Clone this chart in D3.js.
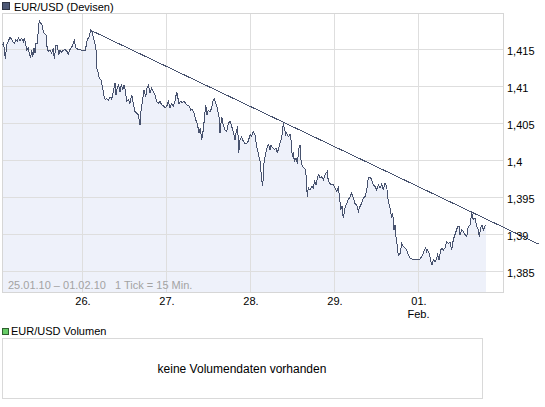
<!DOCTYPE html>
<html>
<head>
<meta charset="utf-8">
<script src="https://cdn.jsdelivr.net/npm/d3@7"></script>
<style>
    body { margin: 0; background: #fff; }
    svg { display: block; font-family: "Liberation Sans", Arial, sans-serif; }
</style>
</head>
<body>
<svg id="chart"></svg>
<script>

// chart hours since 25.01. 00:00 (weekend left out), one point every few ticks
const hours = [1.09,1.37,1.66,1.94,2.34,2.80,3.29,3.57,4.06,4.51,4.91,5.37,5.66,6.14,6.63,7.09,7.37,7.77,8.06,8.51,
    8.80,9.20,9.49,9.77,10.14,10.43,10.71,11.09,11.37,11.66,12.06,12.43,12.80,13.20,13.57,13.86,14.23,14.71,15.20,15.66,
    15.94,16.43,16.80,17.20,17.57,18.06,18.51,19.00,19.49,19.94,20.43,20.91,21.37,21.66,22.14,22.80,23.29,23.77,24.23,24.71,
    25.00,25.37,25.86,26.34,26.71,27.09,27.57,27.86,28.06,28.51,28.80,29.29,29.77,30.14,30.51,30.91,31.37,31.86,32.34,32.80,
    33.29,33.57,33.94,34.34,34.71,35.09,35.49,35.86,36.23,36.63,37.09,37.57,38.06,38.51,39.00,39.49,39.94,40.43,40.71,41.09,
    41.57,42.06,42.43,42.80,43.29,43.77,44.23,44.71,45.20,45.66,46.14,46.63,47.09,47.57,48.06,48.51,49.00,49.49,49.94,50.43,
    50.91,51.20,51.57,52.06,52.51,53.00,53.49,53.94,54.43,54.91,55.37,55.86,56.34,56.80,57.29,57.66,58.06,58.43,58.80,59.20,
    59.57,59.94,60.43,60.91,61.37,61.66,62.06,62.51,63.00,63.29,63.77,64.23,64.71,65.20,65.66,66.14,66.63,67.09,67.57,67.94,
    68.34,68.63,69.00,69.49,69.94,70.43,70.91,71.37,71.86,72.34,72.80,73.29,73.77,74.23,74.71,75.20,75.49,75.86,76.34,76.80,
    77.20,77.57,77.86,78.34,78.80,79.29,79.66,79.94,80.43,80.91,81.37,81.66,82.06,82.34,82.80,83.29,83.57,83.94,84.23,84.51,
    85.00,85.37,85.86,86.14,86.43,86.80,87.29,87.77,88.23,88.51,89.00,89.49,89.94,90.34,90.71,91.09,91.49,91.86,92.34,92.80,
    93.29,93.94,94.23,94.71,95.20,95.66,96.14,96.63,97.09,97.37,97.77,98.14,98.51,99.00,99.49,99.94,100.43,100.91,101.37,101.86,
    102.34,102.80,103.29,103.77,104.23,104.71,105.20,105.66,106.14,106.63,107.09,107.57,108.06,108.51,109.00,109.49,109.94,110.43,110.91,111.37,
    111.86,112.34,112.63,113.00,113.29,113.57,113.94,114.23,114.71,115.20,115.66,116.14,116.63,117.09,117.57,118.06,119.00,119.94,120.43,120.91,
    121.37,121.66,122.06,122.34,122.63,123.00,123.29,123.57,123.86,124.23,124.71,125.20,125.49,125.86,126.34,126.71,127.09,127.57,128.06,128.51,
    129.00,129.49,129.94,130.43,130.71,131.20,131.57,131.86,132.34,132.80,133.29,133.77,134.23,134.71,135.20,135.66,136.14,136.63,137.09,137.37,
    137.77,138.14,138.51,139.00,139.29];

const rates = [1.4156,1.4158,1.4152,1.4137,1.4156,1.4161,1.4167,1.4165,1.4161,1.4158,1.4163,1.4161,1.4166,1.4162,1.4165,1.4161,1.4166,1.4158,1.4149,1.4152,
    1.4145,1.4139,1.4149,1.4140,1.4152,1.4145,1.4158,1.4158,1.4176,1.4189,1.4186,1.4183,1.4174,1.4171,1.4170,1.4154,1.4147,1.4149,1.4145,1.4152,
    1.4137,1.4156,1.4155,1.4143,1.4149,1.4146,1.4149,1.4150,1.4148,1.4144,1.4150,1.4153,1.4158,1.4162,1.4152,1.4150,1.4150,1.4149,1.4148,1.4148,
    1.4154,1.4163,1.4167,1.4176,1.4174,1.4167,1.4158,1.4149,1.4125,1.4118,1.4111,1.4109,1.4098,1.4087,1.4082,1.4084,1.4081,1.4086,1.4083,1.4093,
    1.4104,1.4089,1.4098,1.4102,1.4093,1.4103,1.4095,1.4102,1.4095,1.4080,1.4082,1.4077,1.4089,1.4077,1.4066,1.4064,1.4062,1.4048,1.4066,1.4080,
    1.4095,1.4086,1.4098,1.4102,1.4091,1.4098,1.4093,1.4089,1.4080,1.4077,1.4080,1.4075,1.4074,1.4071,1.4073,1.4080,1.4071,1.4077,1.4073,1.4080,
    1.4093,1.4086,1.4077,1.4080,1.4078,1.4080,1.4077,1.4075,1.4074,1.4068,1.4069,1.4064,1.4055,1.4050,1.4037,1.4044,1.4028,1.4039,1.4055,1.4075,
    1.4061,1.4068,1.4066,1.4071,1.4082,1.4083,1.4077,1.4071,1.4059,1.4037,1.4059,1.4048,1.4041,1.4039,1.4050,1.4053,1.4046,1.4039,1.4028,1.4039,
    1.4046,1.4010,1.4028,1.4032,1.4026,1.4023,1.4023,1.4026,1.4035,1.4033,1.4039,1.4035,1.4019,1.4010,1.3999,1.3974,1.3965,1.3996,1.4010,1.4019,
    1.4021,1.4014,1.4021,1.4017,1.4015,1.4017,1.4010,1.4015,1.4023,1.4030,1.4050,1.4044,1.4035,1.4037,1.4032,1.4035,1.4028,1.4005,1.4012,1.3999,
    1.4003,1.3996,1.4017,1.4021,1.4001,1.3992,1.3990,1.3987,1.3951,1.3963,1.3960,1.3965,1.3963,1.3972,1.3967,1.3976,1.3981,1.3976,1.3978,1.3974,
    1.3981,1.3985,1.3972,1.3969,1.3967,1.3967,1.3963,1.3958,1.3963,1.3954,1.3933,1.3938,1.3922,1.3936,1.3942,1.3947,1.3951,1.3956,1.3949,1.3942,
    1.3940,1.3931,1.3938,1.3942,1.3949,1.3951,1.3960,1.3976,1.3978,1.3974,1.3967,1.3965,1.3960,1.3967,1.3963,1.3968,1.3961,1.3969,1.3965,1.3945,
    1.3936,1.3922,1.3929,1.3906,1.3913,1.3897,1.3884,1.3872,1.3874,1.3888,1.3884,1.3882,1.3879,1.3873,1.3868,1.3867,1.3866,1.3866,1.3867,1.3870,
    1.3875,1.3879,1.3882,1.3877,1.3879,1.3875,1.3870,1.3863,1.3859,1.3866,1.3863,1.3868,1.3873,1.3866,1.3879,1.3882,1.3879,1.3882,1.3890,1.3888,
    1.3890,1.3879,1.3893,1.3900,1.3904,1.3911,1.3911,1.3900,1.3906,1.3904,1.3900,1.3897,1.3911,1.3913,1.3929,1.3920,1.3922,1.3911,1.3906,1.3897,
    1.3909,1.3913,1.3906,1.3911,1.3913];

// trend line (resistance) through two points
const trendHours = [26.34, 154.34];
const trendRates = [1.4176, 1.3887];

const yTicks = [1.385, 1.39, 1.395, 1.4, 1.405, 1.41, 1.415];
const yTickLabels = ["1,385", "1,39", "1,395", "1,4", "1,405", "1,41", "1,415"];
const xTickHours = [24, 48, 72, 96, 120];
const xTickLabels = ["26.", "27.", "28.", "29.", "01."];


class PriceChart {
    constructor(_config) {
        this.config = {
            parentElement: _config.parentElement,
            containerWidth: _config.containerWidth || 545,
            containerHeight: _config.containerHeight || 407,
            plot: { left: 2.5, right: 503.5, top: 13.5, bottom: 292.5 },
            lineColor: '#48536f',
            areaColor: '#eef1fa',
            gridColor: '#dedede'
        }
        this.data = d3.zip(hours, rates).map(d => ({ h: d[0], v: d[1] }));
        this.initVis();
    }

    initVis() {
        let vis = this;
        let p = vis.config.plot;

        vis.svg = d3.select(vis.config.parentElement)
            .attr('width', vis.config.containerWidth)
            .attr('height', vis.config.containerHeight);

        vis.xScale = d3.scaleLinear()
            .domain([(p.left + 1.5) / 3.5, (p.right + 1.5) / 3.5])
            .range([p.left, p.right]);

        // 1,415 sits on y=49.5 and 1,385 on y=271.5
        vis.yScale = d3.scaleLinear()
            .domain([1.385 - 21 / 37 * 0.005, 1.415 + 36 / 37 * 0.005])
            .range([p.bottom, p.top]);

        vis.renderVis();
    }

    renderVis() {
        let vis = this;
        let p = vis.config.plot;

        // title
        vis.svg.append('rect')
            .attr('x', 2.5).attr('y', 2.5).attr('width', 7).attr('height', 7)
            .attr('fill', '#4d5875').attr('stroke', '#2e3444');
        vis.svg.append('text')
            .attr('x', 14).attr('y', 11)
            .style('font-size', '11px')
            .text('EUR/USD (Devisen)');

        // area + line
        vis.chart = vis.svg.append('g');

        vis.chart.append('path')
            .datum(vis.data)
            .attr('fill', vis.config.areaColor)
            .attr('d', d3.area()
                .x(d => vis.xScale(d.h))
                .y0(p.bottom)
                .y1(d => vis.yScale(d.v)));

        // grid
        let crisp = v => Math.round(v - 0.5) + 0.5;
        vis.chart.selectAll('.hgrid')
            .data(yTicks)
            .join('line')
            .attr('class', 'hgrid')
            .attr('x1', p.left).attr('x2', p.right)
            .attr('y1', d => crisp(vis.yScale(d))).attr('y2', d => crisp(vis.yScale(d)))
            .attr('stroke', vis.config.gridColor);

        vis.chart.selectAll('.vgrid')
            .data(xTickHours)
            .join('line')
            .attr('class', 'vgrid')
            .attr('x1', d => crisp(vis.xScale(d))).attr('x2', d => crisp(vis.xScale(d)))
            .attr('y1', p.top).attr('y2', p.bottom)
            .attr('stroke', vis.config.gridColor);

        vis.chart.append('rect')
            .attr('x', p.left).attr('y', p.top)
            .attr('width', p.right - p.left).attr('height', p.bottom - p.top)
            .attr('fill', 'none')
            .attr('stroke', '#d6d6d6');

        vis.chart.append('text')
            .attr('x', 8).attr('y', 288.5)
            .style('font-size', '11px')
            .attr('fill', '#a3a3a3')
            .text('25.01.10 \u2013 01.02.10');
        vis.chart.append('text')
            .attr('x', 115).attr('y', 288.5)
            .style('font-size', '11px')
            .attr('fill', '#a3a3a3')
            .text('1 Tick = 15 Min.');

        vis.chart.append('path')
            .datum(vis.data)
            .attr('fill', 'none')
            .attr('stroke', vis.config.lineColor)
            .attr('stroke-width', 1)
            .attr('shape-rendering', 'crispEdges')
            .attr('d', d3.line()
                .x(d => vis.xScale(d.h))
                .y(d => vis.yScale(d.v)));

        vis.chart.append('line')
            .attr('x1', vis.xScale(trendHours[0])).attr('y1', vis.yScale(trendRates[0]))
            .attr('x2', vis.xScale(trendHours[1])).attr('y2', vis.yScale(trendRates[1]))
            .attr('stroke', vis.config.lineColor)
            .attr('stroke-width', 1)
            .attr('shape-rendering', 'crispEdges');

        // axes
        vis.yAxisG = vis.svg.append('g')
            .attr('transform', `translate(${p.right},0)`)
            .call(d3.axisRight(vis.yScale)
                .tickValues(yTicks)
                .tickSize(0)
                .tickPadding(3.5)
                .tickFormat((d, i) => yTickLabels[i]));
        vis.yAxisG.select('.domain').remove();
        vis.yAxisG.selectAll('text')
            .attr('dy', '0.45em')
            .style('font-size', '11px')
            .style('font-family', '"Liberation Sans", Arial, sans-serif')
            .attr('fill', '#000');

        vis.xAxisG = vis.svg.append('g')
            .attr('transform', `translate(0,${p.bottom})`)
            .call(d3.axisBottom(vis.xScale)
                .tickValues(xTickHours)
                .tickSize(0)
                .tickPadding(5)
                .tickFormat((d, i) => xTickLabels[i]));
        vis.xAxisG.select('.domain').remove();
        vis.xAxisG.selectAll('text')
            .style('font-size', '11px')
            .style('font-family', '"Liberation Sans", Arial, sans-serif')
            .attr('fill', '#000');

        vis.svg.append('text')
            .attr('x', vis.xScale(xTickHours[4])).attr('y', 317.5)
            .attr('text-anchor', 'middle')
            .style('font-size', '11px')
            .text('Feb.');

        // volume panel
        vis.svg.append('rect')
            .attr('x', 2.5).attr('y', 328.5).attr('width', 6).attr('height', 6)
            .attr('fill', '#66cc66').attr('stroke', '#2f5f2f');
        vis.svg.append('text')
            .attr('x', 11).attr('y', 335)
            .style('font-size', '11px')
            .text('EUR/USD Volumen');
        vis.svg.append('rect')
            .attr('x', 2.5).attr('y', 338.5).attr('width', 480).attr('height', 60)
            .attr('fill', '#fff').attr('stroke', '#d9d9d9');
        vis.svg.append('text')
            .attr('x', 242).attr('y', 372.5)
            .attr('text-anchor', 'middle')
            .style('font-size', '12px')
            .text('keine Volumendaten vorhanden');
    }
}

let chart = new PriceChart({ parentElement: '#chart' });
</script>
</body>
</html>
